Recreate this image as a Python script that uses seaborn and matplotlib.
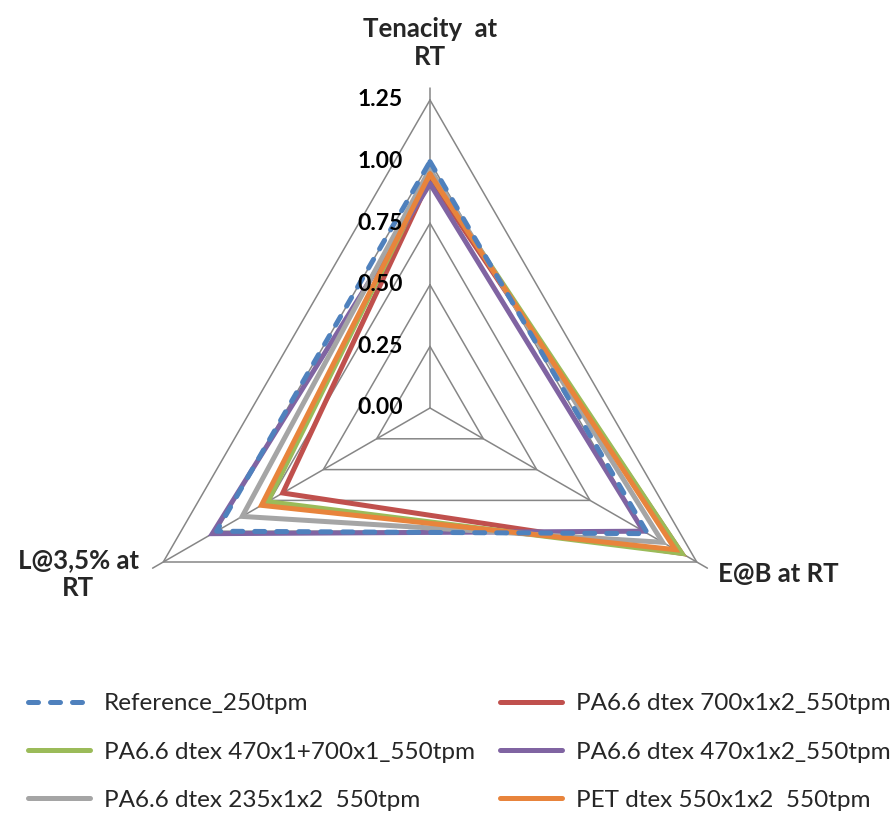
import numpy as np
import pandas as pd
import matplotlib
matplotlib.use("Agg")
import matplotlib.pyplot as plt
import seaborn as sns
from matplotlib.lines import Line2D

# ---------------- data ----------------
categories = ["Tenacity  at\nRT", "E@B at RT", "L@3,5% at\nRT"]
series_names = [
    "Reference_250tpm",
    "PA6.6 dtex 700x1x2_550tpm",
    "PA6.6 dtex 470x1+700x1_550tpm",
    "PA6.6 dtex 470x1x2_550tpm",
    "PA6.6 dtex 235x1x2  550tpm",
    "PET dtex 550x1x2  550tpm",
]
reference_250 = [1.00, 1.02, 1.00]
pa66_700x1x2 = [0.93, 1.18, 0.69]
pa66_470_700 = [0.95, 1.18, 0.76]
pa66_470x1x2 = [0.91, 1.00, 1.02]
pa66_235x1x2 = [0.97, 1.09, 0.88]
pet_550x1x2 = [0.95, 1.15, 0.79]
series_values = [reference_250, pa66_700x1x2, pa66_470_700,
                 pa66_470x1x2, pa66_235x1x2, pet_550x1x2]
colors = ["#4F81BD", "#C0504D", "#9BBB59", "#8064A2", "#A5A5A5", "#E8843C"]
tick_values = [0.00, 0.25, 0.50, 0.75, 1.00, 1.25]
tick_labels = ["0.00", "0.25", "0.50", "0.75", "1.00", "1.25"]

# ---------------- style ----------------
sns.set_theme(style="white")
plt.rcParams["font.family"] = ["Lato", "DejaVu Sans"]

W, H = 892, 814
fig = plt.figure(figsize=(W / 100, H / 100), dpi=100)

cx, cy = 430, 408          # centre in pixels (from top)
unit = 308 / 1.25          # pixels per data unit
rmax = 1.31
rpx = rmax * unit
ax = fig.add_axes([(cx - rpx) / W, (H - cy - rpx) / H, 2 * rpx / W, 2 * rpx / H],
                  projection="polar")
ax.set_theta_offset(np.pi / 2)
ax.set_theta_direction(-1)
ax.set_ylim(0, rmax)
ax.grid(False)
ax.set_xticks([])
ax.set_yticks([])
ax.spines["polar"].set_visible(False)
ax.patch.set_alpha(0)

n = len(categories)
angles = np.arange(n) * 2 * np.pi / n
closed = np.r_[angles, angles[0]]

grid_col = "#868686"
for lvl in tick_values[1:]:
    ax.plot(closed, [lvl] * (n + 1), color=grid_col, lw=1.1, zorder=1, clip_on=False)
for a in angles:
    ax.plot([a, a], [0, 1.30], color=grid_col, lw=1.1, zorder=1, clip_on=False)

# ---------------- series ----------------
rows = []
for name, vals in zip(series_names, series_values):
    for th, v in zip(closed, list(vals) + [vals[0]]):
        rows.append({"series": name, "theta": th, "value": v})
df = pd.DataFrame(rows)

dash_pat = (2.0, 2.4)
order = [1, 2, 3, 4, 5, 0]   # reference on top
for i in order:
    sub = df[df["series"] == series_names[i]]
    sns.lineplot(data=sub, x="theta", y="value", ax=ax, sort=False,
                 estimator=None, color=colors[i], lw=3.6, zorder=3 + i,
                 solid_joinstyle="miter", clip_on=False)
    if i == 0:
        ln = ax.lines[-1]
        ln.set_dashes(dash_pat)
        ln.set_dash_capstyle("round")
        ln.set_zorder(10)
ax.set_xlabel("")
ax.set_ylabel("")
ax.set_xticks([])
ax.set_yticks([])
ax.set_ylim(0, rmax)

# radial tick labels
for v, lab in zip(tick_values, tick_labels):
    ax.annotate(lab, xy=(0, v), xytext=(-27, 0), textcoords="offset pixels",
                ha="right", va="center", fontsize=16.5, fontweight="bold",
                color="black", annotation_clip=False, zorder=20)

# category labels
lab_fs = 18.5
ax.annotate(categories[0], xy=(0, 1.25), xytext=(0, 31), textcoords="offset pixels",
            ha="center", va="bottom", fontsize=lab_fs, fontweight="bold",
            linespacing=1.2, annotation_clip=False)
ax.annotate(categories[1], xy=(angles[1], 1.25), xytext=(21, -12), textcoords="offset pixels",
            ha="left", va="center", fontsize=lab_fs, fontweight="bold",
            annotation_clip=False)
ax.annotate(categories[2], xy=(angles[2], 1.25), xytext=(-85, -12), textcoords="offset pixels",
            ha="center", va="center", fontsize=lab_fs, fontweight="bold",
            linespacing=1.2, annotation_clip=False)

# ---------------- legend ----------------
def handle(i):
    if i == 0:
        return Line2D([], [], color=colors[0], lw=3.6, dashes=dash_pat,
                      dash_capstyle="round")
    return Line2D([], [], color=colors[i], lw=3.6)

fs = 17.5
common = dict(frameon=False, fontsize=fs, handlelength=2.55, handletextpad=0.58,
              labelspacing=1.13, borderpad=0, borderaxespad=0, loc="center left")
fig.legend([handle(i) for i in (0, 2, 4)], [series_names[i] for i in (0, 2, 4)],
           bbox_to_anchor=(28 / W, 1 - 752 / H), **common)
fig.legend([handle(i) for i in (1, 3, 5)], [series_names[i] for i in (1, 3, 5)],
           bbox_to_anchor=(500 / W, 1 - 752 / H), **common)

fig.savefig("out.png", dpi=100)
